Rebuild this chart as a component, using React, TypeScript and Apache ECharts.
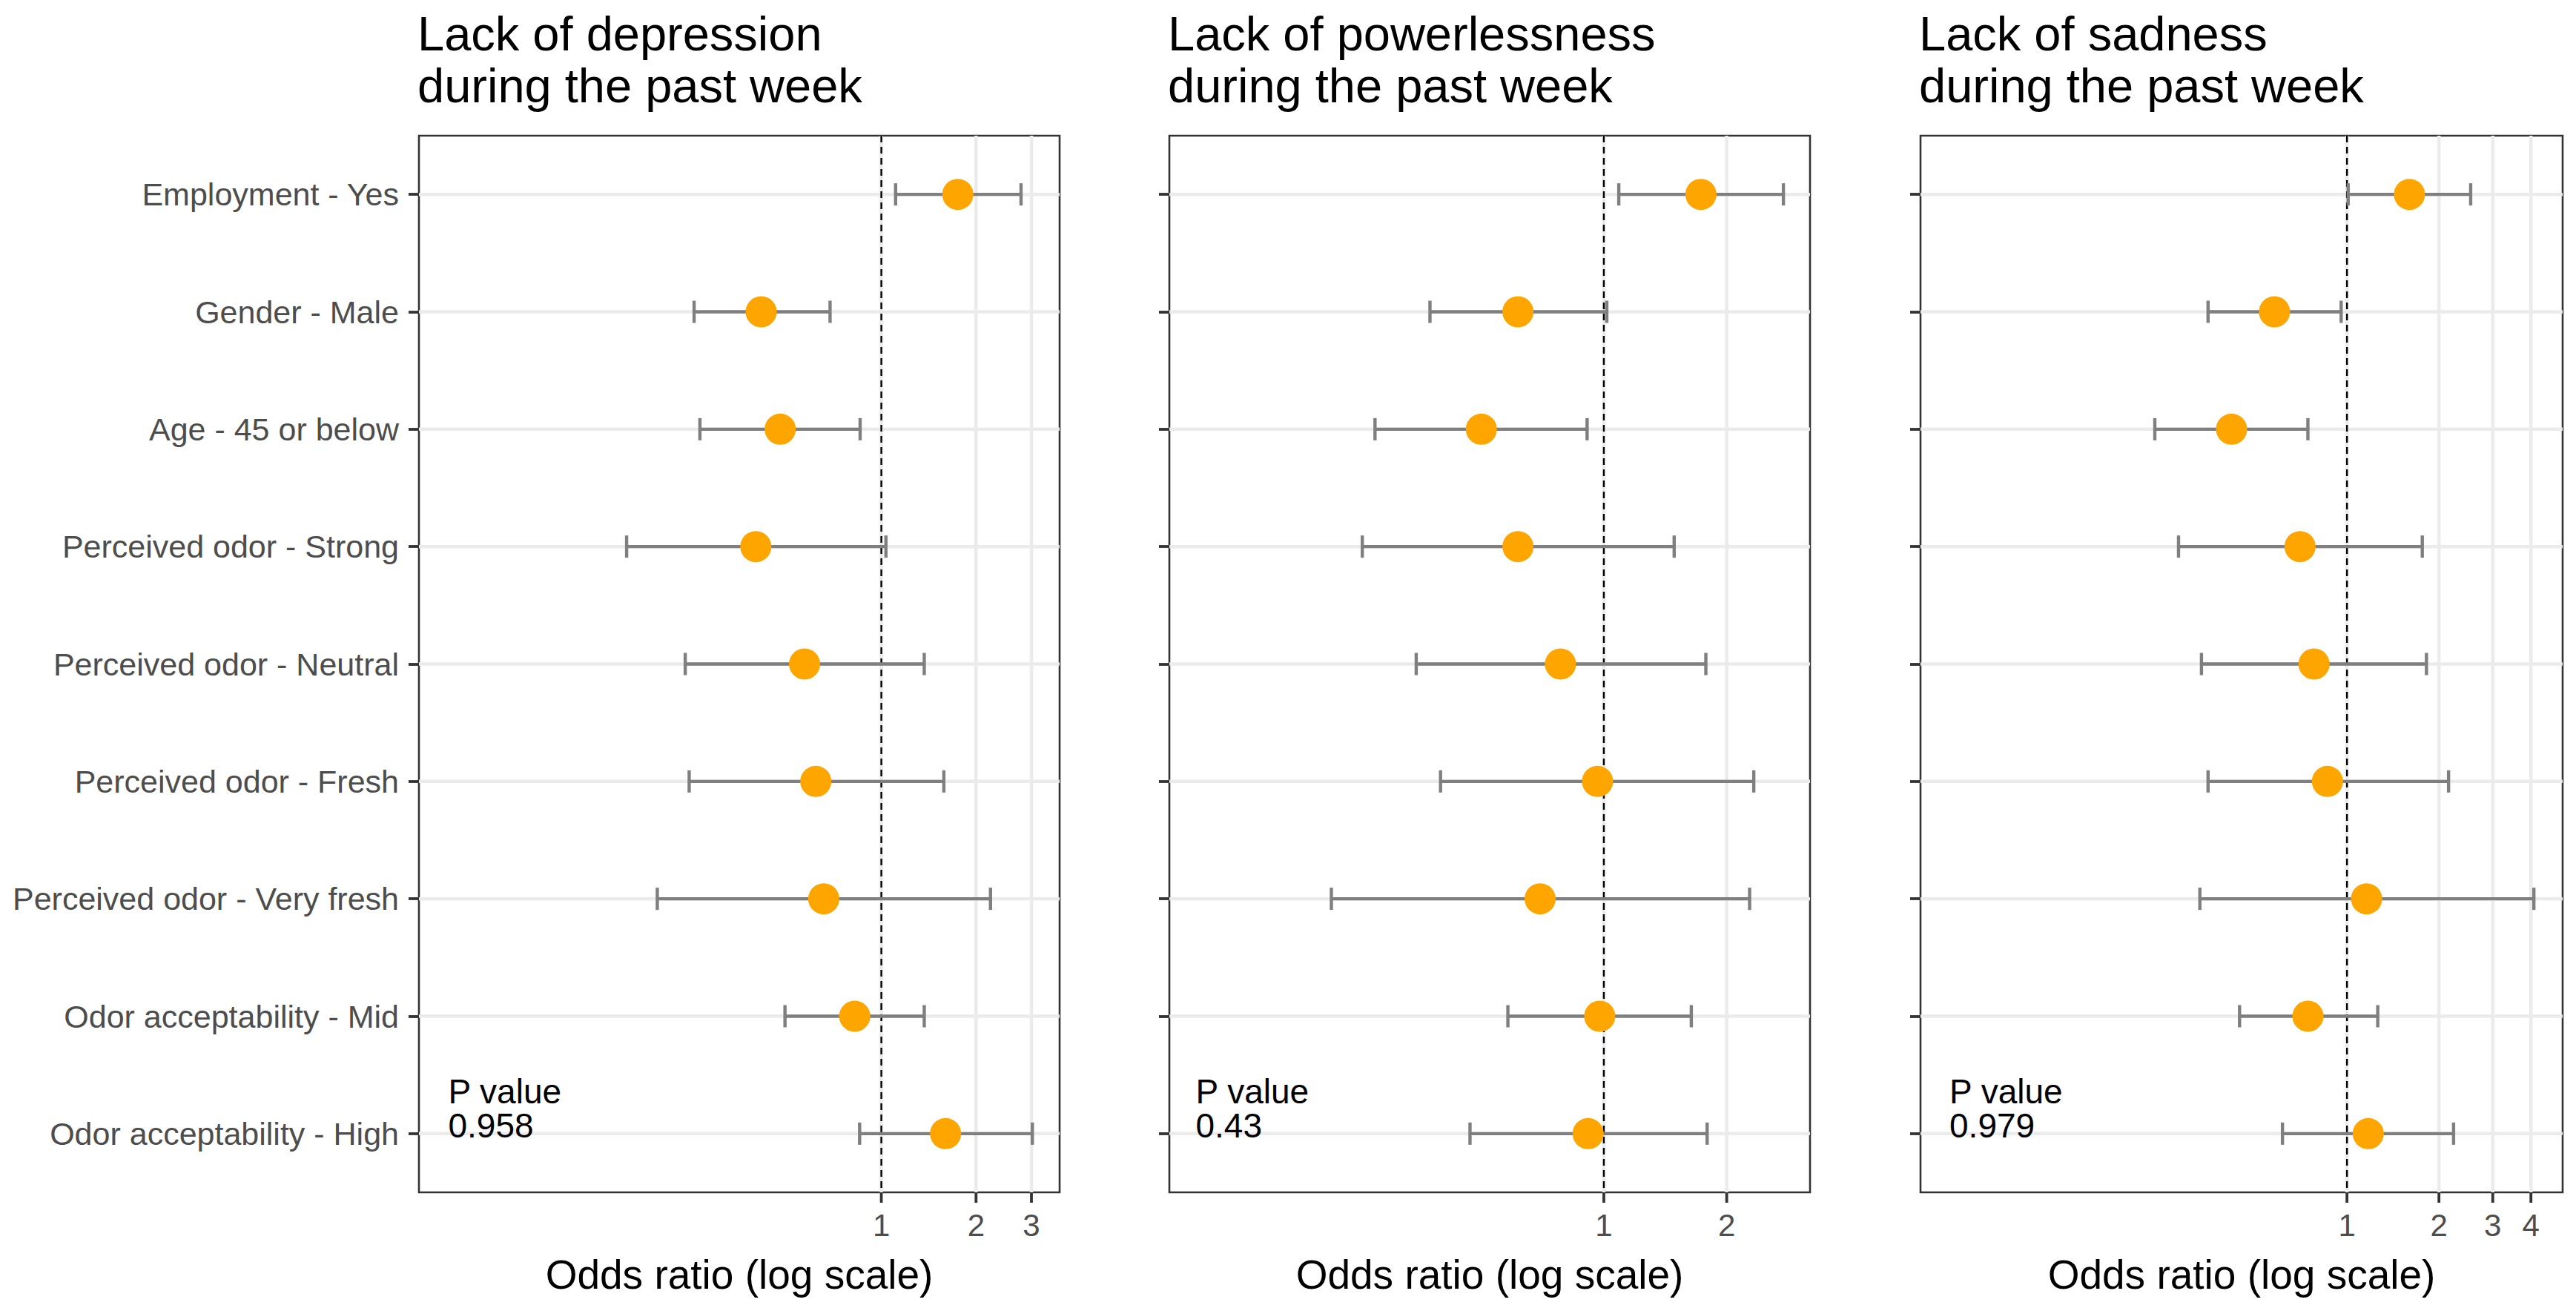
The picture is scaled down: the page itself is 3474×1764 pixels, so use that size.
import React, { useEffect, useRef } from "react";
import * as echarts from "echarts";

const categories = [
  "Employment - Yes",
  "Gender - Male",
  "Age - 45 or below",
  "Perceived odor - Strong",
  "Perceived odor - Neutral",
  "Perceived odor - Fresh",
  "Perceived odor - Very fresh",
  "Odor acceptability - Mid",
  "Odor acceptability - High",
];

const titles = [
  "Lack of depression\nduring the past week",
  "Lack of powerlessness\nduring the past week",
  "Lack of sadness\nduring the past week",
];

const depressionOR = [1.75, 0.415, 0.477, 0.399, 0.57, 0.619, 0.656, 0.823, 1.6];
const depressionLow = [1.11, 0.254, 0.265, 0.155, 0.238, 0.245, 0.194, 0.494, 0.853];
const depressionHigh = [2.78, 0.687, 0.856, 1.034, 1.369, 1.58, 2.223, 1.369, 3.02];

const powerOR = [1.729, 0.616, 0.501, 0.616, 0.783, 0.965, 0.698, 0.977, 0.915];
const powerLow = [1.088, 0.375, 0.275, 0.256, 0.347, 0.398, 0.215, 0.582, 0.47];
const powerHigh = [2.754, 1.017, 0.91, 1.487, 1.778, 2.33, 2.276, 1.638, 1.791];

const sadOR = [1.601, 0.579, 0.419, 0.702, 0.78, 0.863, 1.159, 0.745, 1.174];
const sadLow = [1.009, 0.351, 0.235, 0.281, 0.334, 0.351, 0.33, 0.445, 0.615];
const sadHigh = [2.54, 0.957, 0.745, 1.764, 1.82, 2.15, 4.09, 1.261, 2.233];

const pValues = ["0.958", "0.43", "0.979"];
const pValueX = [0.042, 0.1, 0.05];
const xTicks = [
  [1, 2, 3],
  [1, 2],
  [1, 2, 3, 4],
];
const xMin = [0.0339, 0.0862, 0.0402];
const xMax = [3.687, 3.2, 5.08];
const refValue = 1;
const xAxisTitle = "Odds ratio (log scale)";

const panels = [
  { or: depressionOR, lo: depressionLow, hi: depressionHigh },
  { or: powerOR, lo: powerLow, hi: powerHigh },
  { or: sadOR, lo: sadLow, hi: sadHigh },
];

const FONT = "'Liberation Sans', Arial, Helvetica, sans-serif";
const gridLefts = [565, 1577, 2590];
const gridWidths = [864, 864, 866];
const gridTop = 183;
const gridHeight = 1425;

function buildOption() {
  const grid: any[] = [];
  const xAxis: any[] = [];
  const yAxis: any[] = [];
  const series: any[] = [];
  const title: any[] = [];
  const graphic: any[] = [];

  panels.forEach((p, i) => {
    grid.push({
      left: gridLefts[i],
      top: gridTop,
      width: gridWidths[i],
      height: gridHeight,
      show: true,
      borderColor: "#333333",
      borderWidth: 2.6,
      backgroundColor: "transparent",
      containLabel: false,
      outerBoundsMode: "none",
    });
    xAxis.push({
      gridIndex: i,
      type: "log",
      logBase: 10,
      min: xMin[i],
      max: xMax[i],
      axisLine: { show: false },
      axisTick: { show: false },
      axisLabel: { show: false },
      splitLine: { show: false },
      minorTick: { show: false },
      minorSplitLine: { show: false },
    });
    yAxis.push({
      gridIndex: i,
      type: "category",
      data: categories,
      inverse: true,
      boundaryGap: true,
      axisLine: { show: false },
      axisTick: {
        show: true,
        alignWithLabel: true,
        length: 14,
        lineStyle: { color: "#333333", width: 3.8 },
      },
      axisLabel: {
        show: i === 0,
        fontSize: 43,
        color: "#4D4D4D",
        margin: 27,
        fontFamily: FONT,
      },
      splitLine: { show: false },
    });
    title.push({
      text: titles[i],
      left: gridLefts[i] - 2,
      top: 10,
      padding: 0,
      textStyle: {
        fontSize: 65,
        lineHeight: 70,
        fontWeight: "normal",
        color: "#000000",
        fontFamily: FONT,
      },
    });
    graphic.push({
      type: "text",
      x: gridLefts[i] + gridWidths[i] / 2,
      y: 1719,
      style: {
        text: xAxisTitle,
        fontSize: 55,
        fontFamily: FONT,
        fill: "#000000",
        align: "center",
        verticalAlign: "middle",
      },
    });

    // horizontal grid lines at categories
    series.push({
      type: "custom",
      xAxisIndex: i,
      yAxisIndex: i,
      z: 1,
      silent: true,
      encode: { x: 0, y: 1 },
      data: categories.map((c) => [refValue, c]),
      renderItem: (params: any, api: any) => {
        const cs = params.coordSys;
        const y = api.coord([api.value(0), api.value(1)])[1];
        return {
          type: "line",
          shape: { x1: cs.x, y1: y, x2: cs.x + cs.width, y2: y },
          style: { stroke: "#EBEBEB", lineWidth: 4.5 },
        };
      },
    });

    // x ticks, labels and vertical grid lines
    series.push({
      type: "custom",
      xAxisIndex: i,
      yAxisIndex: i,
      z: 1,
      silent: true,
      clip: false,
      encode: { x: 0, y: 1 },
      data: xTicks[i].map((t) => [t, categories[0]]),
      renderItem: (params: any, api: any) => {
        const cs = params.coordSys;
        const v = api.value(0);
        const x = api.coord([v, 0])[0];
        const bottom = cs.y + cs.height;
        return {
          type: "group",
          children: [
            {
              type: "line",
              shape: { x1: x, y1: cs.y, x2: x, y2: bottom },
              style: { stroke: "#EBEBEB", lineWidth: 4.5 },
            },
            {
              type: "line",
              shape: { x1: x, y1: bottom, x2: x, y2: bottom + 14 },
              style: { stroke: "#333333", lineWidth: 3.8 },
            },
            {
              type: "text",
              x: x,
              y: bottom + 44,
              style: {
                text: String(v),
                fontSize: 42,
                fontFamily: FONT,
                fill: "#4D4D4D",
                align: "center",
                verticalAlign: "middle",
              },
            },
          ],
        };
      },
    });

    // dashed reference line at OR = 1
    series.push({
      type: "custom",
      xAxisIndex: i,
      yAxisIndex: i,
      z: 2,
      silent: true,
      encode: { x: 0, y: 1 },
      data: [[refValue, categories[0]]],
      renderItem: (params: any, api: any) => {
        const cs = params.coordSys;
        const x = api.coord([api.value(0), 0])[0];
        return {
          type: "line",
          shape: { x1: x, y1: cs.y, x2: x, y2: cs.y + cs.height },
          style: { stroke: "#000000", lineWidth: 2.4, lineDash: [9, 6] },
        };
      },
    });

    // error bars
    series.push({
      type: "custom",
      xAxisIndex: i,
      yAxisIndex: i,
      z: 3,
      silent: true,
      encode: { x: [0, 1], y: 2 },
      data: categories.map((c, k) => [p.lo[k], p.hi[k], c]),
      renderItem: (params: any, api: any) => {
        const a = api.coord([api.value(0), api.value(2)]);
        const b = api.coord([api.value(1), api.value(2)]);
        const h = 15;
        const st = { stroke: "#7F7F7F", lineWidth: 4.4 };
        return {
          type: "group",
          children: [
            { type: "line", shape: { x1: a[0], y1: a[1], x2: b[0], y2: b[1] }, style: st },
            { type: "line", shape: { x1: a[0], y1: a[1] - h, x2: a[0], y2: a[1] + h }, style: st },
            { type: "line", shape: { x1: b[0], y1: b[1] - h, x2: b[0], y2: b[1] + h }, style: st },
          ],
        };
      },
    });

    // odds ratio points
    series.push({
      type: "scatter",
      xAxisIndex: i,
      yAxisIndex: i,
      z: 4,
      symbol: "circle",
      symbolSize: 42,
      itemStyle: { color: "#FFA500", opacity: 1 },
      data: categories.map((c, k) => [p.or[k], c]),
    });

    // P value annotation
    series.push({
      type: "custom",
      xAxisIndex: i,
      yAxisIndex: i,
      z: 5,
      silent: true,
      clip: false,
      encode: { x: 0, y: 1 },
      data: [[pValueX[i], categories[categories.length - 1]]],
      renderItem: (params: any, api: any) => {
        const pt = api.coord([api.value(0), api.value(1)]);
        return {
          type: "text",
          x: pt[0],
          y: pt[1] + 12,
          style: {
            text: "P value\n" + pValues[i],
            fontSize: 46,
            lineHeight: 46,
            fontFamily: FONT,
            fill: "#000000",
            align: "left",
            verticalAlign: "bottom",
          },
        };
      },
    });
  });

  return {
    animation: false,
    backgroundColor: "#ffffff",
    title,
    grid,
    xAxis,
    yAxis,
    series,
    graphic,
  };
}

export default function App() {
  const ref = useRef<HTMLDivElement>(null);
  useEffect(() => {
    document.body.style.margin = "0";
    const chart = echarts.init(ref.current as HTMLDivElement, null, { renderer: "svg" });
    chart.setOption(buildOption() as any);
    return () => {
      chart.dispose();
    };
  }, []);
  return <div ref={ref} style={{ width: 3474, height: 1764, background: "#ffffff" }} />;
}
